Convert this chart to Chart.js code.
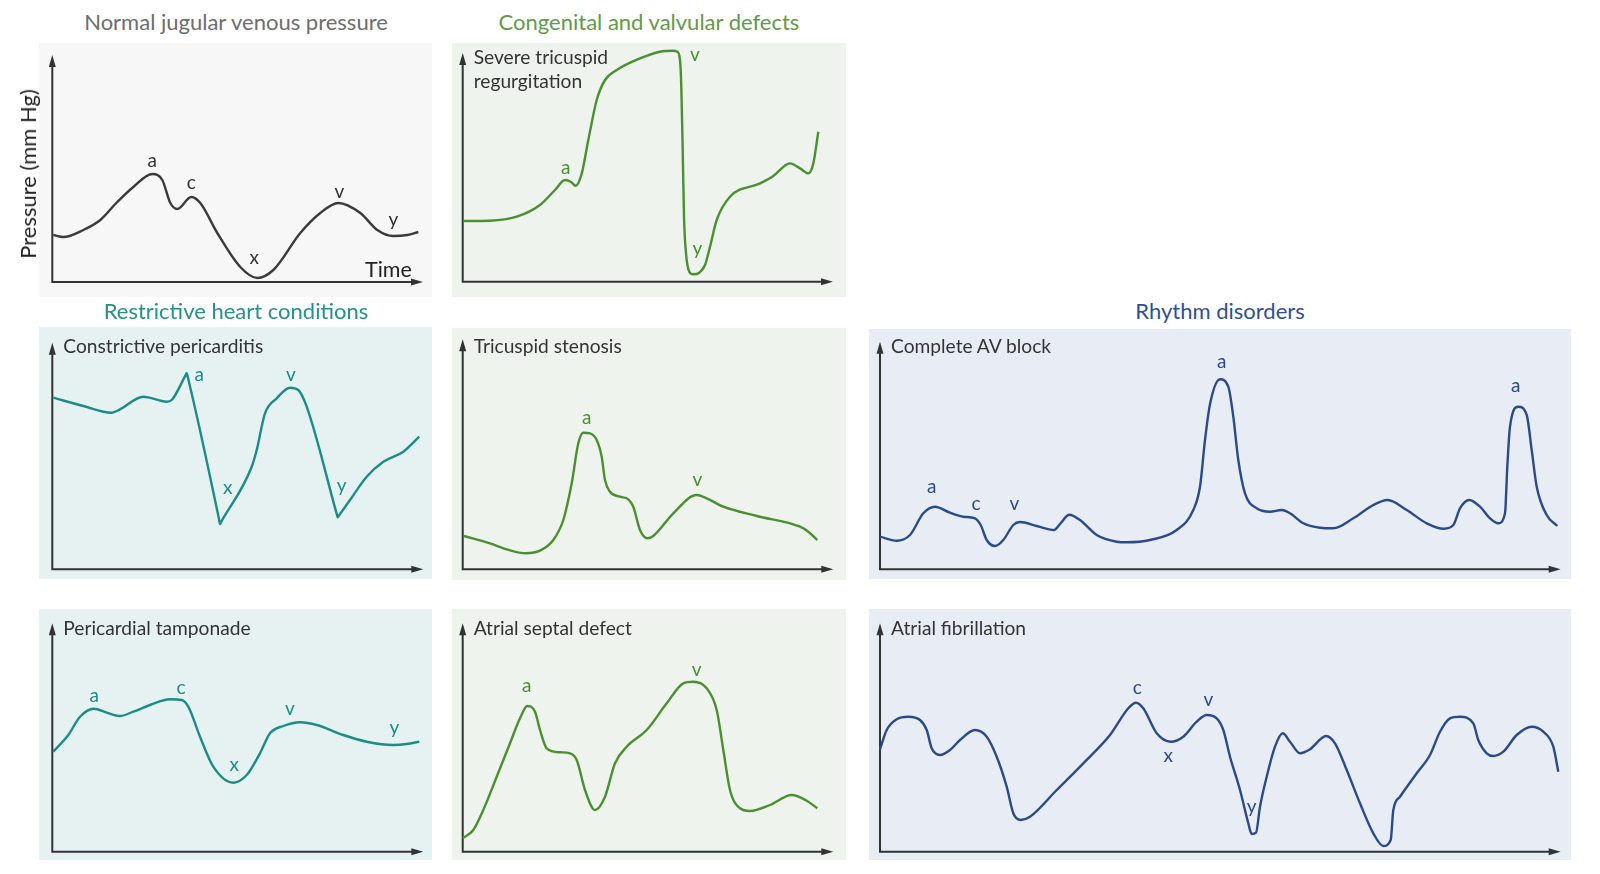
<!DOCTYPE html>
<html>
<head>
<meta charset="utf-8">
<script src="https://cdn.jsdelivr.net/npm/chart.js@4.4.1/dist/chart.umd.min.js"></script>
<style>
  body { margin: 0; width: 1600px; height: 874px; background: #fff; position: relative; overflow: hidden;
         font-family: Lato, "Noto Sans", sans-serif; }
  .panel { position: absolute; }
  .panel canvas { position: absolute; left: 0; top: 0; }
  .txt { position: absolute; white-space: nowrap; line-height: 1; }
</style>
</head>
<body>
<script>
// waveforms as [time, pressure] pairs, arbitrary units
const normalJvp = [[1,47],[11,45],[31,52],[48,62],[64,79],[81,95],[100,108],[110,102],[118,79],[125,73],[139,85],[148,79],
  [165,49],[188,15],[205,4],[221,12],[248,49],[268,69],[286,79],[308,69],[325,52],[341,46],[355,47],[366,50]];
const tricuspidRegurg = [[0.6,60.7],[27.3,61],[54,65],[77.3,76.7],[92.3,91.7],[102.3,101.7],[108,100],[113,96],[119,108],
  [125.6,141.7],[134,181.7],[142.3,201.7],[154,211.7],[177.3,223.3],[197.3,230],[210.6,231],[214.6,230],[217.3,221.7],
  [218.6,195],[220,131.7],[221.3,65],[223.3,28.4],[226.6,10],[230.6,7.4],[236.6,9],[242.3,16.7],[247.3,35],[254,61.7],
  [267.3,85],[297.3,98.3],[310.6,105.7],[327.3,118.3],[337.3,113.3],[345.6,108.3],[350.6,118.3],[355.6,150]];
const constrictive = [[1,171.6],[31,163.3],[59.4,156.6],[67.7,160],[91,172.6],[114.4,167.6],[119.4,169.3],[133,193.5],
  [134.4,196],[136,190],[166.8,49.8],[167.7,45.3],[168.8,47.3],[199.4,102.6],[204.4,119.3],[212.7,156],[224.4,171],
  [237.7,181.6],[246,179.3],[254.4,162.6],[284.6,54.8],[285.4,52],[286.6,53.7],[297.7,69.3],[314.4,92.6],[331,107.6],
  [351,117.6],[367,132.6]];
const tricuspidStenosis = [[1.3,33.3],[27.3,26],[44,20],[63.3,16],[77.3,18.6],[90.6,29.3],[100.6,49.3],[109,86],
  [115.6,126],[120.6,136.6],[127.3,136],[134,129.3],[139,112.6],[142.3,89.3],[147.3,77.6],[157.3,72.6],[165.6,70],
  [170.6,62.6],[177.3,39.3],[184.6,31],[190.6,33.3],[210.6,56],[234,74.3],[244,71],[260.6,62.6],[294,53.3],
  [337.3,42.6],[345.6,37.6],[354.6,29.3]];
const avBlock = [[0,32.6],[16.7,28.6],[30,34.3],[43.3,56],[55,62.6],[70,56.6],[83.3,52.6],[95,51],[100.7,44.3],
  [106.7,29.3],[115,23.3],[123.3,29.3],[133.3,44.3],[140,47.3],[156.7,43.3],[174,39.3],[180,45.3],[189.3,54.6],
  [200,49.3],[216.7,34.3],[236.7,27.6],[246.7,27],[270,29.3],[296.7,39.3],[313.3,59.3],[320,82.6],[325,129.3],
  [330,165],[340,190],[348.3,182.6],[353.3,152.6],[358.3,109.3],[365,76],[376.7,61],[390,57.6],[401.7,59.3],[410,56],
  [423.3,46],[440,41.6],[453.3,41],[473.3,51],[493.3,64.3],[507.7,69.3],[526.7,59.3],[546.7,46],[564,40.6],
  [573.3,44.3],[580,61],[589.3,69.3],[600,62.6],[610,51],[618.3,46],[625,56],[627.3,102.6],[630,142.6],[638.3,162.6],
  [646.7,154.3],[651.7,119.3],[656.7,82.6],[666.7,54.3],[677.3,43.3]];
const tamponade = [[1,100],[16,116.7],[27.7,135],[41.7,143],[54.4,139],[67.7,135.7],[81,140],[97.7,146.7],[117.7,152.4],
  [129.4,151.7],[136,145],[147.7,115],[161,85],[181,69],[194.4,76.7],[207.7,98.4],[217.7,118.4],[231,125.7],
  [247.7,129.4],[264.4,126.7],[291,116.7],[314.4,110],[341,106.7],[354.4,107.7],[367,110]];
const septalDefect = [[0,13.4],[10.6,21.7],[20.6,41.7],[34,75],[47.3,108.4],[57.3,133.4],[64.6,145.7],[72.3,140],
  [77.3,121.7],[84,103.4],[97.3,99.4],[107.3,98.4],[114,91.7],[122.3,61.7],[132.3,41.7],[142.3,55],[152.3,88.4],
  [164,105],[184,121.7],[204,148.4],[220.6,168.4],[230.6,170],[244,163.4],[254,141.7],[260.6,101.7],[267.3,61.7],
  [277.3,43.4],[287.3,40.7],[307.3,46.7],[329,56.7],[344,51],[354.6,43.4]];
const atrialFib = [[0,102.4],[6.7,121.7],[16.7,132.4],[28.3,135],[40,131.7],[46.7,121.7],[51.7,103.4],[60,96.7],
  [70,101.7],[80,111.7],[95,121.7],[106.7,115],[116.7,95],[126.7,65],[133.3,38.4],[140.7,31.7],[150,35],[176.7,61.7],
  [203.3,88.4],[230,116.7],[248.3,143.4],[256,149],[263.3,143.4],[276.7,118.4],[290.7,110],[303.3,115],[316.7,130],
  [326.7,136.7],[336.7,133.4],[343.3,121.7],[350,95],[360,61.7],[368.3,28.4],[371.7,17.7],[376,19],[380,45],
  [386.7,75],[395,105],[402.7,118.4],[410,110],[420,98.4],[430,102.4],[446,115.7],[455,108.4],[466.7,81.7],[480,48.4],
  [493.3,18.4],[503.3,5.7],[510.7,11.7],[513.3,41.7],[520,55],[536.7,78.4],[550,96.7],[560,120],[570,133.4],[580,135],
  [593.3,128.4],[598.3,111.7],[606.7,98.4],[613.3,95.7],[623.3,100],[636.7,116.7],[651.7,125],[663.3,120],[673.3,105],
  [678.3,80]];

// wave labels: [letter, time, pressure]
const normalMarks = [['a',100,120],['c',139,98],['x',202,23],['v',287,89],['y',341,59]];
const regurgMarks = [['a',103,112.7],['v',232.3,225],['y',234.6,29.4]];
const constrictMarks = [['a',147,193.3],['x',175.4,80],['v',238.7,193.3],['y',289.4,80]];
const stenosisMarks = [['a',124,150],['v',234.6,87.6]];
const avBlockMarks = [['a',51.7,81],['c',96,64.3],['v',134.3,64.3],['a',341.7,206],['a',635.7,182]];
const tamponadeMarks = [['a',42,154.4],['c',128.7,162.4],['x',182,85],['v',237.7,141],['y',342,121]];
const septalMarks = [['a',64,164],['v',234,180.7]];
const fibMarks = [['c',257.3,162.7],['x',288.3,94],['v',328.3,150],['y',371.7,41.7]];

const GRAY = '#3b3b3b', GREEN = '#4a9030', TEAL = '#1b8c86', BLUE = '#2a4a8c';

// box: panel rect [l, t, r, b]; axis: [originX, originY, xTip, yTip]; head: baseline of the panel caption
const panels = [
  { box: [39, 43, 432, 297], axis: [52.3, 282, 423, 55], bg: '#f7f7f7', color: GRAY, mark: '#333', data: normalJvp, marks: normalMarks },
  { box: [452, 43, 846, 297], axis: [462.7, 281.7, 833, 53], bg: '#eef3ee', color: GREEN, mark: GREEN, data: tricuspidRegurg, marks: regurgMarks,
    title: ['Severe tricuspid', 'regurgitation'], head: 64.5 },
  { box: [39, 327, 432, 579], axis: [52.3, 569.3, 423.3, 342.7], bg: '#e6f2f2', color: TEAL, mark: TEAL, data: constrictive, marks: constrictMarks,
    title: ['Constrictive pericarditis'], head: 353.3 },
  { box: [452, 328, 846, 580], axis: [462.7, 569.3, 833.3, 339.3], bg: '#eef3ee', color: GREEN, mark: GREEN, data: tricuspidStenosis, marks: stenosisMarks,
    title: ['Tricuspid stenosis'], head: 353.3 },
  { box: [869, 329, 1571, 579], axis: [880, 569.3, 1560.7, 341.7], bg: '#e8edf5', color: BLUE, mark: BLUE, data: avBlock, marks: avBlockMarks,
    title: ['Complete AV block'], head: 353.3 },
  { box: [39, 609, 432, 860], axis: [52.3, 851.7, 423.3, 623.3], bg: '#e6f2f2', color: TEAL, mark: TEAL, data: tamponade, marks: tamponadeMarks,
    title: ['Pericardial tamponade'], head: 635 },
  { box: [452, 609, 846, 860], axis: [462.7, 851.7, 833.3, 623.3], bg: '#eef3ee', color: GREEN, mark: GREEN, data: septalDefect, marks: septalMarks,
    title: ['Atrial septal defect'], head: 635 },
  { box: [869, 609, 1571, 860], axis: [880, 851.7, 1560.7, 623.3], bg: '#e8edf5', color: BLUE, mark: BLUE, data: atrialFib, marks: fibMarks,
    title: ['Atrial fibrillation'], head: 635 }
];

// place text by its baseline
function text(str, x, baseline, size, color, center) {
  const d = document.createElement('div');
  d.className = 'txt';
  d.textContent = str;
  d.style.fontSize = size + 'px';
  d.style.color = color;
  d.style.left = x + 'px';
  d.style.top = (baseline - size * 0.887) + 'px';
  if (center) d.style.transform = 'translateX(-50%)';
  document.body.appendChild(d);
  return d;
}

const axesPlugin = {
  id: 'axes',
  beforeDatasetsDraw(chart) {
    const { ctx, chartArea: a } = chart;
    ctx.save();
    ctx.strokeStyle = ctx.fillStyle = '#333';
    ctx.lineWidth = 2;
    ctx.beginPath();
    ctx.moveTo(a.left, a.top + 8);
    ctx.lineTo(a.left, a.bottom);
    ctx.lineTo(a.right - 8, a.bottom);
    ctx.stroke();
    ctx.beginPath();
    ctx.moveTo(a.left, a.top);
    ctx.lineTo(a.left - 3.5, a.top + 12);
    ctx.lineTo(a.left + 3.5, a.top + 12);
    ctx.fill();
    ctx.beginPath();
    ctx.moveTo(a.right, a.bottom);
    ctx.lineTo(a.right - 12, a.bottom - 3.5);
    ctx.lineTo(a.right - 12, a.bottom + 3.5);
    ctx.fill();
    ctx.restore();
  }
};

const marksPlugin = {
  id: 'marks',
  afterDatasetsDraw(chart, args, opts) {
    const { ctx, scales } = chart;
    const size = 19;
    ctx.save();
    ctx.font = size + 'px Lato, "Noto Sans", sans-serif';
    ctx.fillStyle = opts.color;
    ctx.textAlign = 'center';
    ctx.textBaseline = 'alphabetic';
    opts.list.forEach(([t, x, y]) => {
      const off = t === 'y' ? 0.15 : 0.25;
      ctx.fillText(t, scales.x.getPixelForValue(x), scales.y.getPixelForValue(y) + size * off);
    });
    ctx.restore();
  }
};

panels.forEach(p => {
  const [l, t, r, b] = p.box;
  const [ox, oy, tx, ty] = p.axis;
  const div = document.createElement('div');
  div.className = 'panel';
  div.style.cssText = `left:${l}px;top:${t}px;width:${r - l}px;height:${b - t}px;background:${p.bg}`;
  const cv = document.createElement('canvas');
  cv.width = r - l;
  cv.height = b - t;
  div.appendChild(cv);
  document.body.appendChild(div);

  new Chart(cv, {
    type: 'line',
    data: {
      datasets: [{
        data: p.data.map(([x, y]) => ({ x, y })),
        borderColor: p.color,
        borderWidth: 2.4,
        pointRadius: 0,
        cubicInterpolationMode: 'monotone',
        tension: 0.4,
        clip: false
      }]
    },
    options: {
      responsive: false,
      animation: false,
      devicePixelRatio: 1,
      layout: { padding: { left: ox - l, right: r - tx, top: ty - t, bottom: b - oy } },
      elements: { line: { capBezierPoints: false } },
      scales: {
        x: { type: 'linear', min: 0, max: tx - ox, display: false },
        y: { type: 'linear', min: 0, max: oy - ty, display: false }
      },
      plugins: {
        legend: { display: false },
        tooltip: { enabled: false },
        marks: { list: p.marks, color: p.mark }
      }
    },
    plugins: [axesPlugin, marksPlugin]
  });

  if (p.title) {
    p.title.forEach((line, i) => text(line, ox + 11, p.head + i * 24, 19.2, '#333'));
  }
});

// group headings
text('Normal jugular venous pressure', 236, 31, 22, '#6d6d6d', true);
text('Congenital and valvular defects', 649, 31, 22, '#5f9a4a', true);
text('Restrictive heart conditions', 236, 320, 22, '#24918a', true);
text('Rhythm disorders', 1220, 320, 22, '#2e4f93', true);

// axis captions of the normal panel
text('Time', 365, 278.3, 21.5, '#222');
const yl = text('Pressure (mm Hg)', 28, 183, 22, '#222');
yl.style.transform = 'translate(-50%, -50%) rotate(-90deg)';
yl.style.top = '174px';
</script>
</body>
</html>
